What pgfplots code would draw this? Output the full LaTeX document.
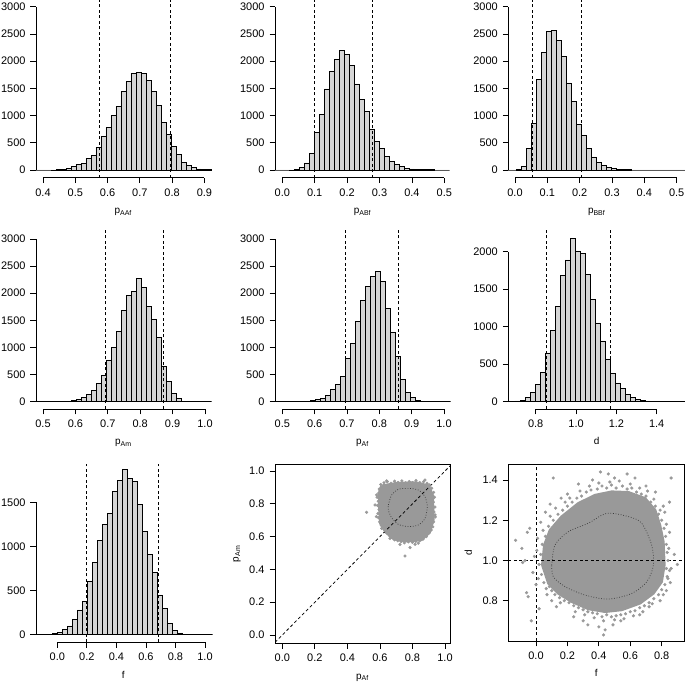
\documentclass[border=0pt]{standalone}
\usepackage{fontspec}
\setmainfont{Liberation Sans}
\usepackage{pgfplots}
\pgfplotsset{compat=1.18}
\definecolor{histfill}{RGB}{214,214,214}
\definecolor{ptgray}{RGB}{153,153,153}
\definecolor{dotgray}{RGB}{60,60,60}

\pgfplotsset{
  base/.style={scale only axis, anchor=south west,
    tick align=outside, major tick length=5.5bp,
    tick style={line width=0.75bp, color=black},
    every tick label/.append style={font=\fontsize{11}{13}\selectfont, text=black},
    xticklabel shift=2bp, yticklabel shift=1.5bp,
    label style={font=\fontsize{11}{13}\selectfont},
    every axis x label/.style={at={(axis description cs:0.5,0)}, anchor=base, yshift=-36bp},
  },
  hist/.style={base, clip=false, axis x line*=bottom, axis y line*=left,
    axis line style={draw=none}},
  sc/.style={base, xtick pos=left, ytick pos=left,
    axis line style={line width=0.75bp},
    every axis y label/.style={at={(axis description cs:0,0.5)}, rotate=90, anchor=center, yshift=38bp}},
  hbar/.style={ybar interval, fill=histfill, draw=black, line width=0.7bp},
  qline/.style={black, line width=0.75bp, dash pattern=on 3bp off 2.5bp},
  cloud/.style={fill=ptgray, draw=ptgray, line width=2.5bp, line join=round},
  pts/.style={only marks, mark=*, mark size=1.4bp, mark options={draw=ptgray, fill=ptgray}},
  ctr/.style={dotgray, line width=0.7bp, dash pattern=on 0.8bp off 1.8bp, smooth},
}
% R-style axis lines: x from first to last tick, y from 0 to top tick
\newcommand{\raxes}[5]{%
  \draw[line width=0.75bp] (axis cs:#1,#3) -- (axis cs:#2,#3);
  \draw[line width=0.75bp] (axis cs:#4,0) -- (axis cs:#4,#5);}

\begin{document}
\begin{tikzpicture}
\path[use as bounding box] (0,0) rectangle (685bp,685bp);

% ---- row 1 ----
\begin{axis}[hist, at={(36bp,507.3bp)}, width=174.5bp, height=177.7bp,
  xmin=0.3783, xmax=0.919, ymin=-141.5, ymax=3123,
  xtick={0.4,0.5,0.6,0.7,0.8,0.9}, xticklabels={0.4,0.5,0.6,0.7,0.8,0.9},
  ytick={0,500,1000,1500,2000,2500,3000}, yticklabels={0,500,1000,1500,2000,2500,3000},
  xlabel={p\textsubscript{AAf}}]
\addplot[hbar] coordinates {(0.378,0) (0.3935,0) (0.409,0) (0.4245,2) (0.44,5) (0.4555,15) (0.471,25)
  (0.4865,60) (0.502,110) (0.5175,125) (0.533,210) (0.5485,260) (0.564,420) (0.5795,620) (0.595,780)
  (0.6105,1000) (0.626,1160) (0.6415,1440) (0.657,1620) (0.6725,1780) (0.688,1800) (0.7035,1770)
  (0.719,1650) (0.7345,1440) (0.75,1190) (0.7655,870) (0.781,650) (0.7965,440) (0.812,290)
  (0.8275,135) (0.843,80) (0.8585,45) (0.874,20) (0.8895,8) (0.905,3) (0.9205,0)};
\addplot[qline] coordinates {(0.5745,-141.5) (0.5745,3123)};
\addplot[qline] coordinates {(0.7957,-141.5) (0.7957,3123)};
\raxes{0.4}{0.9}{-141.5}{0.3783}{3000}
\end{axis}

\begin{axis}[hist, at={(275bp,507.3bp)}, width=175bp, height=177.7bp,
  xmin=-0.02253, xmax=0.5176, ymin=-141.5, ymax=3123,
  xtick={0,0.1,0.2,0.3,0.4,0.5}, xticklabels={0.0,0.1,0.2,0.3,0.4,0.5},
  ytick={0,500,1000,1500,2000,2500,3000}, yticklabels={0,500,1000,1500,2000,2500,3000},
  xlabel={p\textsubscript{ABf}}]
\addplot[hbar] coordinates {(-0.026,0) (-0.0105,0) (0.005,0) (0.0205,2) (0.036,10) (0.0515,40)
  (0.067,130) (0.0825,300) (0.098,690) (0.1135,1020) (0.129,1490) (0.1445,1810) (0.16,2030)
  (0.1755,2200) (0.191,2120) (0.2065,1920) (0.222,1580) (0.2375,1290) (0.253,1070) (0.2685,740)
  (0.284,520) (0.2995,390) (0.315,250) (0.3305,160) (0.346,100) (0.3615,60) (0.377,35) (0.3925,20)
  (0.408,12) (0.4235,10) (0.439,5) (0.4545,3) (0.47,0) (0.4855,0) (0.501,0) (0.5165,0)};
\addplot[qline] coordinates {(0.098,-141.5) (0.098,3123)};
\addplot[qline] coordinates {(0.278,-141.5) (0.278,3123)};
\raxes{0}{0.5}{-141.5}{-0.02253}{3000}
\end{axis}

\begin{axis}[hist, at={(508.3bp,507.3bp)}, width=176.7bp, height=177.7bp,
  xmin=-0.02072, xmax=0.5257, ymin=-141.5, ymax=3123,
  xtick={0,0.1,0.2,0.3,0.4,0.5}, xticklabels={0.0,0.1,0.2,0.3,0.4,0.5},
  ytick={0,500,1000,1500,2000,2500,3000}, yticklabels={0,500,1000,1500,2000,2500,3000},
  xlabel={p\textsubscript{BBf}}]
\addplot[hbar] coordinates {(-0.0279,0) (-0.0124,0) (0.0031,5) (0.0186,70) (0.0341,390) (0.0496,860)
  (0.0651,1670) (0.0806,2160) (0.0961,2540) (0.1116,2560) (0.1271,2380) (0.1426,2090) (0.1581,1600)
  (0.1736,1260) (0.1891,840) (0.2046,640) (0.2201,390) (0.2356,240) (0.2511,140) (0.2666,80)
  (0.2821,50) (0.2976,30) (0.3131,15) (0.3286,8) (0.3441,3) (0.3596,0) (0.3751,0) (0.3906,0)
  (0.4061,0) (0.4216,0) (0.4371,0) (0.4526,0) (0.4681,0) (0.4836,0) (0.4991,0) (0.5146,0) (0.5301,0)};
\addplot[qline] coordinates {(0.0535,-141.5) (0.0535,3123)};
\addplot[qline] coordinates {(0.204,-141.5) (0.204,3123)};
\raxes{0}{0.5}{-141.5}{-0.02072}{3000}
\end{axis}

% ---- row 2 ----
\begin{axis}[hist, at={(36bp,276bp)}, width=174.7bp, height=180bp,
  xmin=0.4784, xmax=1.0176, ymin=-134.6, ymax=3184,
  xtick={0.5,0.6,0.7,0.8,0.9,1.0}, xticklabels={0.5,0.6,0.7,0.8,0.9,1.0},
  ytick={0,500,1000,1500,2000,2500,3000}, yticklabels={0,500,1000,1500,2000,2500,3000},
  xlabel={p\textsubscript{Am}}]
\addplot[hbar] coordinates {(0.478,0) (0.4935,0) (0.509,0) (0.5245,0) (0.54,0) (0.5555,3) (0.571,10)
  (0.5865,25) (0.602,40) (0.6175,80) (0.633,130) (0.6485,210) (0.664,330) (0.6795,490) (0.695,770)
  (0.7105,1000) (0.726,1290) (0.7415,1690) (0.757,1960) (0.7725,2040) (0.788,2270) (0.8035,2110)
  (0.819,1750) (0.8345,1520) (0.85,1180) (0.8655,660) (0.881,370) (0.8965,150) (0.912,55)
  (0.9275,10) (0.943,3) (0.9585,0) (0.974,0) (0.9895,0) (1.005,0) (1.0205,0)};
\addplot[qline] coordinates {(0.693,-134.6) (0.693,3184)};
\addplot[qline] coordinates {(0.871,-134.6) (0.871,3184)};
\raxes{0.5}{1.0}{-134.6}{0.4784}{3000}
\end{axis}

\begin{axis}[hist, at={(275bp,276bp)}, width=175bp, height=180bp,
  xmin=0.47743, xmax=1.0186, ymin=-134.6, ymax=3184,
  xtick={0.5,0.6,0.7,0.8,0.9,1.0}, xticklabels={0.5,0.6,0.7,0.8,0.9,1.0},
  ytick={0,500,1000,1500,2000,2500,3000}, yticklabels={0,500,1000,1500,2000,2500,3000},
  xlabel={p\textsubscript{Af}}]
\addplot[hbar] coordinates {(0.478,0) (0.4935,0) (0.509,0) (0.5245,0) (0.54,0) (0.5555,0) (0.571,5)
  (0.5865,20) (0.602,40) (0.6175,60) (0.633,110) (0.6485,230) (0.664,320) (0.6795,460) (0.695,790)
  (0.7105,1080) (0.726,1480) (0.7415,1860) (0.757,2130) (0.7725,2310) (0.788,2400) (0.8035,2210)
  (0.819,1720) (0.8345,1270) (0.85,830) (0.8655,410) (0.881,170) (0.8965,80) (0.912,20)
  (0.9275,5) (0.943,0) (0.9585,0) (0.974,0) (0.9895,0) (1.005,0) (1.0205,0)};
\addplot[qline] coordinates {(0.696,-134.6) (0.696,3184)};
\addplot[qline] coordinates {(0.860,-134.6) (0.860,3184)};
\raxes{0.5}{1.0}{-134.6}{0.47743}{3000}
\end{axis}

\begin{axis}[hist, at={(508.3bp,276bp)}, width=176.7bp, height=180bp,
  xmin=0.66416, xmax=1.5402, ymin=-97.3, ymax=2303,
  xtick={0.8,1.0,1.2,1.4}, xticklabels={0.8,1.0,1.2,1.4},
  ytick={0,500,1000,1500,2000}, yticklabels={0,500,1000,1500,2000},
  xlabel={d}]
\addplot[hbar] coordinates {(0.648,0) (0.6728,5) (0.6976,10) (0.7224,15) (0.7472,60) (0.772,120)
  (0.7968,230) (0.8216,390) (0.8464,650) (0.8712,950) (0.896,1270) (0.9208,1680) (0.9456,1890)
  (0.9704,2180) (0.9952,2010) (1.02,1980) (1.0448,1700) (1.0696,1360) (1.0944,1050) (1.1192,810)
  (1.144,570) (1.1688,380) (1.1936,250) (1.2184,180) (1.2432,100) (1.268,60) (1.2928,35)
  (1.3176,20) (1.3424,10) (1.3672,5) (1.392,3) (1.4168,0) (1.4416,0) (1.4664,0) (1.4912,0)
  (1.516,0) (1.5408,0)};
\addplot[qline] coordinates {(0.853,-97.3) (0.853,2303)};
\addplot[qline] coordinates {(1.170,-97.3) (1.170,2303)};
\raxes{0.8}{1.4}{-97.3}{0.66416}{2000}
\end{axis}

% ---- row 3 ----
\begin{axis}[hist, at={(36bp,42.7bp)}, width=174.7bp, height=178.3bp,
  xmin=-0.1442, xmax=1.0386, ymin=-86.1, ymax=1934,
  xtick={0,0.2,0.4,0.6,0.8,1.0}, xticklabels={0.0,0.2,0.4,0.6,0.8,1.0},
  ytick={0,500,1000,1500}, yticklabels={0,500,1000,1500},
  xlabel={f}]
\addplot[hbar] coordinates {(-0.1689,0) (-0.135,0) (-0.1011,2) (-0.0672,6) (-0.0333,15) (0.0006,30)
  (0.0345,60) (0.0684,100) (0.1023,170) (0.1362,280) (0.1701,380) (0.204,600) (0.2379,820)
  (0.2718,1070) (0.3057,1250) (0.3396,1370) (0.3735,1620) (0.4074,1750) (0.4413,1870) (0.4752,1770)
  (0.5091,1740) (0.543,1480) (0.5769,1170) (0.6108,910) (0.6447,710) (0.6786,450) (0.7125,300)
  (0.7464,130) (0.7803,50) (0.8142,20) (0.8481,5) (0.882,0) (0.9159,0) (0.9498,0) (0.9837,0)
  (1.0176,0) (1.0515,0)};
\addplot[qline] coordinates {(0.197,-86.1) (0.197,1934)};
\addplot[qline] coordinates {(0.683,-86.1) (0.683,1934)};
\raxes{0}{1.0}{-86.1}{-0.1442}{1500}
\end{axis}

% p_Af vs p_Am
\begin{axis}[sc, at={(275bp,41.7bp)}, width=175bp, height=179bp,
  xmin=-0.0449, xmax=1.0307, ymin=-0.0506, ymax=1.0409,
  xtick={0,0.2,0.4,0.6,0.8,1.0}, xticklabels={0.0,0.2,0.4,0.6,0.8,1.0},
  ytick={0,0.2,0.4,0.6,0.8,1.0}, yticklabels={0.0,0.2,0.4,0.6,0.8,1.0},
  xlabel={p\textsubscript{Af}}, ylabel={p\textsubscript{Am}}]
\addplot[cloud] coordinates {(0.61,0.91) (0.70,0.925) (0.82,0.93) (0.90,0.91) (0.925,0.85)
  (0.928,0.70) (0.905,0.625) (0.855,0.58) (0.765,0.572) (0.685,0.585) (0.635,0.628) (0.603,0.68)
  (0.595,0.79) (0.598,0.88) (0.61,0.91)};
\addplot[pts] coordinates {(0.605,0.918) (0.625,0.928) (0.645,0.935) (0.668,0.925) (0.69,0.938)
  (0.712,0.93) (0.735,0.94) (0.758,0.928) (0.78,0.936) (0.80,0.93) (0.822,0.942) (0.845,0.93)
  (0.868,0.935) (0.89,0.925) (0.905,0.915) (0.918,0.895) (0.93,0.87) (0.935,0.84) (0.928,0.81)
  (0.938,0.78) (0.932,0.75) (0.94,0.72) (0.93,0.69) (0.925,0.66) (0.915,0.64) (0.9,0.62)
  (0.885,0.60) (0.865,0.585) (0.845,0.575) (0.82,0.57) (0.8,0.565) (0.775,0.568) (0.75,0.562)
  (0.73,0.57) (0.71,0.575) (0.69,0.58) (0.675,0.595) (0.66,0.605) (0.645,0.62) (0.632,0.635)
  (0.62,0.655) (0.608,0.67) (0.598,0.69) (0.592,0.715) (0.588,0.74) (0.595,0.765) (0.585,0.79)
  (0.59,0.815) (0.583,0.84) (0.592,0.865) (0.596,0.89) (0.518,0.748) (0.57,0.793) (0.754,0.482)
  (0.785,0.533) (0.816,0.553) (0.58,0.854) (0.641,0.94) (0.877,0.945) (0.939,0.732) (0.662,0.589)
  (0.723,0.552) (0.836,0.56) (0.578,0.722) (0.611,0.65)};
\addplot[ctr] coordinates {(0.652,0.793) (0.672,0.854) (0.713,0.888) (0.775,0.894) (0.836,0.884)
  (0.877,0.843) (0.891,0.783) (0.877,0.711) (0.836,0.671) (0.775,0.661) (0.713,0.675)
  (0.672,0.715) (0.652,0.762) (0.652,0.793)};
\addplot[qline] coordinates {(-0.0449,-0.0449) (1.0307,1.0307)};
\end{axis}

% f vs d
\begin{axis}[sc, at={(508.3bp,44bp)}, width=175.7bp, height=176.7bp,
  xmin=-0.1763, xmax=0.942, ymin=0.5997, ymax=1.478,
  xtick={0,0.2,0.4,0.6,0.8}, xticklabels={0.0,0.2,0.4,0.6,0.8},
  ytick={0.8,1.0,1.2,1.4}, yticklabels={0.8,1.0,1.2,1.4},
  xlabel={f}, ylabel={d}, every axis y label/.append style={yshift=2bp}]
\addplot[cloud] coordinates {(0.040,0.977) (0.053,1.077) (0.089,1.151) (0.163,1.218) (0.269,1.284)
  (0.376,1.325) (0.482,1.342) (0.588,1.339) (0.694,1.309) (0.758,1.251) (0.789,1.176) (0.811,1.093)
  (0.817,0.977) (0.800,0.894) (0.747,0.836) (0.662,0.787) (0.545,0.754) (0.439,0.745) (0.333,0.759)
  (0.227,0.795) (0.142,0.836) (0.079,0.886) (0.040,0.977)};
\addplot[pts] coordinates {(0.02,0.98) (0.03,1.03) (0.035,0.93) (0.04,1.08) (0.05,0.89) (0.06,1.12)
  (0.065,0.86) (0.08,1.17) (0.11,1.20) (0.14,1.23) (0.17,1.25) (0.20,1.27) (0.23,1.29) (0.26,1.31)
  (0.29,1.32) (0.32,1.34) (0.35,1.35) (0.39,1.355) (0.42,1.37) (0.45,1.36) (0.48,1.375) (0.51,1.36)
  (0.55,1.37) (0.58,1.355) (0.61,1.36) (0.64,1.34) (0.67,1.33) (0.70,1.32) (0.73,1.29) (0.76,1.27)
  (0.78,1.23) (0.80,1.20) (0.815,1.16) (0.825,1.12) (0.83,1.08) (0.835,1.04) (0.84,1.0) (0.83,0.96)
  (0.835,0.92) (0.82,0.88) (0.80,0.855) (0.78,0.83) (0.75,0.81) (0.72,0.79) (0.69,0.775)
  (0.66,0.765) (0.63,0.75) (0.60,0.745) (0.57,0.735) (0.54,0.73) (0.51,0.725) (0.48,0.72)
  (0.45,0.73) (0.42,0.72) (0.39,0.735) (0.36,0.74) (0.33,0.745) (0.30,0.755) (0.27,0.765)
  (0.24,0.775) (0.21,0.79) (0.18,0.80) (0.15,0.815) (0.12,0.83) (0.10,0.85) (0.085,0.87)
  (0.005,1.05) (0.015,0.91) (0.045,1.15) (0.07,0.83) (0.09,1.22) (0.125,1.26) (0.155,0.79)
  (0.185,1.29) (0.215,1.31) (0.25,0.745) (0.28,1.345) (0.31,0.73) (0.34,1.37) (0.37,0.715)
  (0.40,1.385) (0.43,0.70) (0.47,1.39) (0.50,0.705) (0.53,1.395) (0.56,0.71) (0.60,1.38)
  (0.62,0.725) (0.66,1.36) (0.68,0.745) (0.71,1.345) (0.74,0.785) (0.75,1.305) (0.79,1.25)
  (0.81,0.83) (0.83,1.18) (0.845,1.06) (0.85,0.95) (0.85,1.14) (0.82,1.24) (0.855,0.89)
  (-0.13,1.10) (-0.09,1.06) (-0.07,1.00) (-0.055,1.14) (-0.04,1.16) (-0.085,0.99) (-0.06,0.84)
  (-0.05,0.82) (-0.03,0.70) (-0.02,0.94) (-0.01,1.02) (0.00,0.88) (0.01,1.11) (0.02,0.76)
  (0.03,1.19) (0.06,1.24) (0.09,1.28) (0.11,1.41) (0.10,0.80) (0.13,0.77) (0.16,1.31) (0.20,1.33)
  (0.24,0.72) (0.27,1.38) (0.30,0.70) (0.33,0.68) (0.36,1.40) (0.40,0.67) (0.41,1.44) (0.43,0.63)
  (0.44,0.655) (0.46,1.43) (0.50,1.41) (0.49,0.68) (0.54,0.70) (0.58,1.43) (0.63,1.41) (0.66,0.73)
  (0.70,1.37) (0.72,0.77) (0.76,1.34) (0.79,0.80) (0.81,1.27) (0.85,1.29) (0.86,1.41) (0.86,0.96)
  (0.88,1.03) (0.90,0.98) (0.84,0.91) (0.83,0.85)};
\addplot[ctr] coordinates {(0.100,0.977) (0.121,1.077) (0.206,1.143) (0.333,1.185) (0.450,1.234)
  (0.588,1.218) (0.673,1.185) (0.736,1.077) (0.747,0.977) (0.705,0.894) (0.609,0.836) (0.460,0.808)
  (0.312,0.828) (0.185,0.870) (0.110,0.919) (0.100,0.977)};
\addplot[qline] coordinates {(0,0.5997) (0,1.478)};
\addplot[qline] coordinates {(-0.1763,1) (0.942,1)};
\end{axis}
\end{tikzpicture}
\end{document}
